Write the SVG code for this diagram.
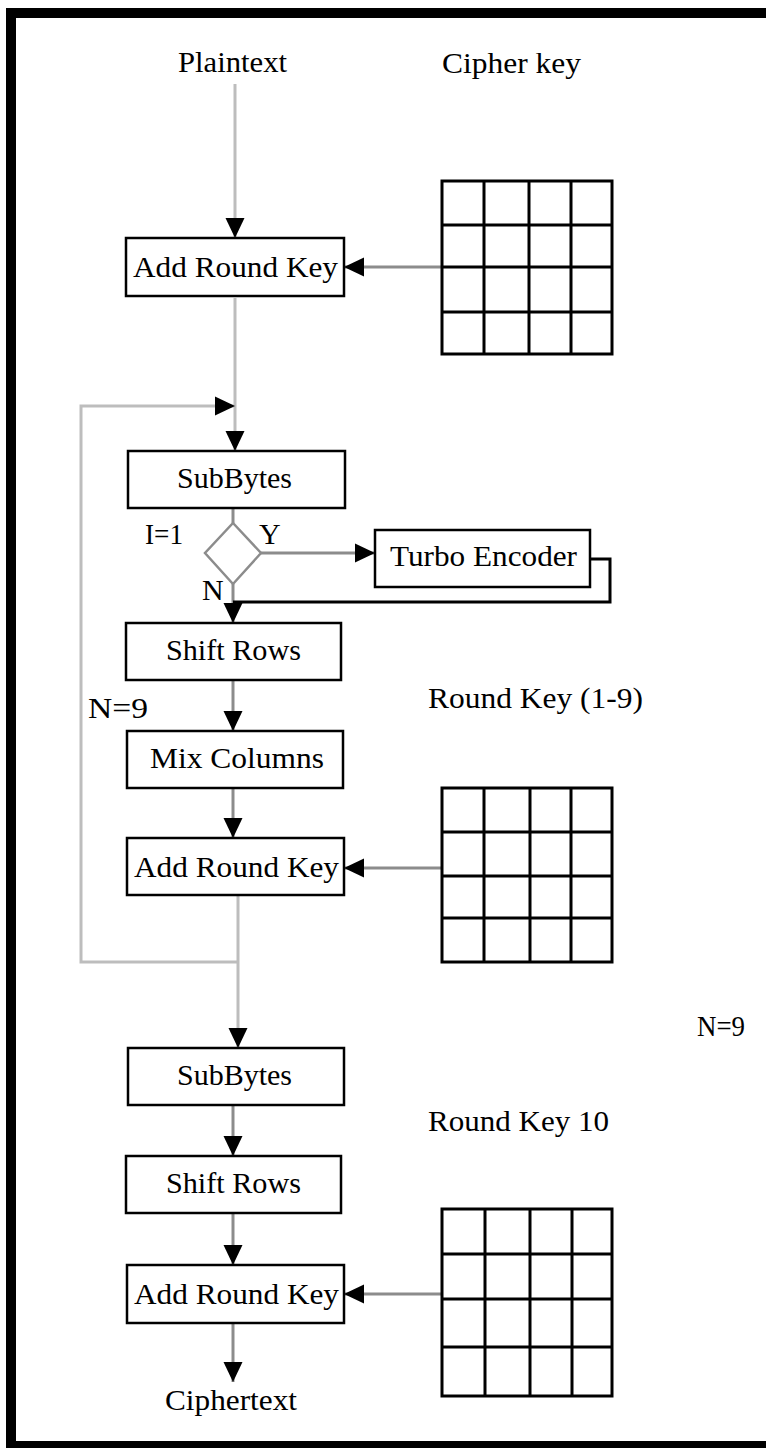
<svg xmlns="http://www.w3.org/2000/svg" width="766" height="1448" viewBox="0 0 766 1448">
<style>
.box{fill:#fff;stroke:#000;stroke-width:2.5}
.t{font-family:"Liberation Serif","DejaVu Serif",serif;font-size:30px;fill:#000}
.c{fill:none;stroke:#8c8c8c;stroke-width:3}
.cl{fill:none;stroke:#bdbdbd;stroke-width:3}
.cb{fill:none;stroke:#000;stroke-width:3}
.g{fill:none;stroke:#000;stroke-width:3}
</style>
<defs>
<marker id="ah" viewBox="0 0 20 20" refX="20" refY="10" markerWidth="20" markerHeight="20" markerUnits="userSpaceOnUse" orient="auto"><path d="M0,0.5 L20,10 L0,19.5 z" fill="#000"/></marker>
</defs>
<rect x="0" y="0" width="766" height="1448" fill="#fff"/>
<path d="M11,1448 L11,13 L766,13 M11,1446 L766,1446" fill="none" stroke="#000" stroke-width="10"/>

<g id="connectors">
<line class="cl" x1="235" y1="84" x2="235" y2="238" marker-end="url(#ah)"/>
<line class="c" x1="441" y1="267" x2="344" y2="267" marker-end="url(#ah)"/>
<line class="cl" x1="235" y1="298" x2="235" y2="451" marker-end="url(#ah)"/>
<path class="cl" d="M238,962 L81,962 L81,406 L235,406" marker-end="url(#ah)"/>
<line class="c" x1="233" y1="508" x2="233" y2="523"/>
<line class="c" x1="261" y1="553" x2="375" y2="553" marker-end="url(#ah)"/>
<line class="c" x1="233" y1="584" x2="233" y2="623" marker-end="url(#ah)"/>
<path class="cb" d="M590,559 L610,559 L610,602 L233,602"/>
<line class="c" x1="233" y1="680" x2="233" y2="731" marker-end="url(#ah)"/>
<line class="c" x1="233" y1="788" x2="233" y2="838" marker-end="url(#ah)"/>
<line class="c" x1="442" y1="868" x2="344" y2="868" marker-end="url(#ah)"/>
<line class="cl" x1="238" y1="896" x2="238" y2="1048" marker-end="url(#ah)"/>
<line class="c" x1="233" y1="1105" x2="233" y2="1156" marker-end="url(#ah)"/>
<line class="c" x1="233" y1="1213" x2="233" y2="1265" marker-end="url(#ah)"/>
<line class="c" x1="442" y1="1294" x2="344" y2="1294" marker-end="url(#ah)"/>
<line class="c" x1="233" y1="1323" x2="233" y2="1382" marker-end="url(#ah)"/>
</g>

<g id="label-plaintext"><text class="t" x="178" y="72" textLength="109" lengthAdjust="spacingAndGlyphs">Plaintext</text></g>
<g id="label-cipherkey"><text class="t" x="442" y="73" textLength="139" lengthAdjust="spacingAndGlyphs">Cipher key</text></g>

<g id="grid1">
<rect class="g" x="442" y="181" width="170" height="173"/>
<path class="g" d="M484,181 V354 M529,181 V354 M571,181 V354 M442,225 H612 M442,267 H612 M442,312 H612"/>
</g>

<g id="ark1">
<rect class="box" x="126" y="238" width="218" height="58"/>
<text class="t" x="133" y="277" textLength="205" lengthAdjust="spacingAndGlyphs">Add Round Key</text>
</g>

<g id="subbytes1">
<rect class="box" x="128" y="451" width="217" height="57"/>
<text class="t" x="177" y="488" textLength="115" lengthAdjust="spacingAndGlyphs">SubBytes</text>
</g>

<g id="decision">
<path d="M233,523 L261,553 L233,584 L205,553 z" fill="#fff" stroke="#8c8c8c" stroke-width="2.5"/>
<text class="t" x="145" y="544" textLength="38" lengthAdjust="spacingAndGlyphs">I=1</text>
<text class="t" x="259" y="544">Y</text>
<text class="t" x="202" y="600">N</text>
</g>

<g id="turbo">
<rect class="box" x="375" y="530" width="215" height="57"/>
<text class="t" x="390" y="566" textLength="187" lengthAdjust="spacingAndGlyphs">Turbo Encoder</text>
</g>

<g id="shiftrows1">
<rect class="box" x="126" y="623" width="215" height="57"/>
<text class="t" x="166" y="660" textLength="135" lengthAdjust="spacingAndGlyphs">Shift Rows</text>
</g>

<g id="label-n9-left"><text class="t" x="88" y="718" textLength="60" lengthAdjust="spacingAndGlyphs">N=9</text></g>
<g id="label-rk19"><text class="t" x="428" y="708" textLength="215" lengthAdjust="spacingAndGlyphs">Round Key (1-9)</text></g>

<g id="mixcolumns">
<rect class="box" x="127" y="731" width="216" height="57"/>
<text class="t" x="150" y="768" textLength="174" lengthAdjust="spacingAndGlyphs">Mix Columns</text>
</g>

<g id="grid2">
<rect class="g" x="442" y="788" width="170" height="174"/>
<path class="g" d="M484,788 V962 M530,788 V962 M571,788 V962 M442,832 H612 M442,876 H612 M442,918 H612"/>
</g>

<g id="ark2">
<rect class="box" x="127" y="838" width="217" height="57"/>
<text class="t" x="134" y="877" textLength="205" lengthAdjust="spacingAndGlyphs">Add Round Key</text>
</g>

<g id="label-n9-right"><text class="t" x="697" y="1036" textLength="48" lengthAdjust="spacingAndGlyphs">N=9</text></g>

<g id="subbytes2">
<rect class="box" x="128" y="1048" width="216" height="57"/>
<text class="t" x="177" y="1085" textLength="115" lengthAdjust="spacingAndGlyphs">SubBytes</text>
</g>

<g id="label-rk10"><text class="t" x="428" y="1131" textLength="181" lengthAdjust="spacingAndGlyphs">Round Key 10</text></g>

<g id="shiftrows2">
<rect class="box" x="126" y="1156" width="215" height="57"/>
<text class="t" x="166" y="1193" textLength="135" lengthAdjust="spacingAndGlyphs">Shift Rows</text>
</g>

<g id="grid3">
<rect class="g" x="442" y="1209" width="170" height="187"/>
<path class="g" d="M485,1209 V1396 M530,1209 V1396 M572,1209 V1396 M442,1254 H612 M442,1299 H612 M442,1347 H612"/>
</g>

<g id="ark3">
<rect class="box" x="127" y="1265" width="217" height="58"/>
<text class="t" x="134" y="1304" textLength="205" lengthAdjust="spacingAndGlyphs">Add Round Key</text>
</g>

<g id="label-ciphertext"><text class="t" x="165" y="1410" textLength="132" lengthAdjust="spacingAndGlyphs">Ciphertext</text></g>
</svg>
